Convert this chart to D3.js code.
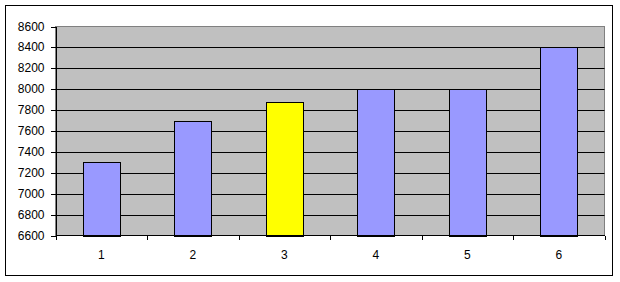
<!DOCTYPE html>
<html>
<head>
<meta charset="utf-8">
<script src="https://cdn.jsdelivr.net/npm/d3@7"></script>
<style>
  body { margin: 0; background: #fff; }
  .axis text { font-family: "Liberation Sans", Arial, sans-serif; font-size: 12px; fill: #000; }
  .axis path, .axis line { stroke: #000; shape-rendering: crispEdges; }
</style>
</head>
<body>
<div class="graph-container"></div>
<script>
const categories = ['1', '2', '3', '4', '5', '6'];
const values = [7300, 7700, 7880, 8000, 8000, 8400];
const highlighted = ['3'];
const yTicks = [6600, 6800, 7000, 7200, 7400, 7600, 7800, 8000, 8200, 8400, 8600];

const width = 620, height = 282;
const plot = { left: 55.5, top: 26.5, right: 604.5, bottom: 235.5 };

const svg = d3.select('.graph-container')
              .append('svg')
              .attr('width', width)
              .attr('height', height);

// Outer chart border
svg.append('rect')
   .attr('x', 5.5).attr('y', 5.5)
   .attr('width', 607).attr('height', 270)
   .attr('fill', '#fff')
   .attr('stroke', '#000');

const xScale = d3.scaleBand()
                 .domain(categories)
                 .range([plot.left, plot.right])
                 .paddingInner(0.6)
                 .paddingOuter(0.3);
const xBand = d3.scaleBand()
                .domain(categories)
                .range([plot.left, plot.right]);
const yScale = d3.scaleLinear()
                 .domain([6600, 8600])
                 .range([plot.bottom, plot.top]);

// Plot area
svg.append('rect')
   .attr('x', plot.left).attr('y', plot.top)
   .attr('width', plot.right - plot.left)
   .attr('height', plot.bottom - plot.top)
   .attr('fill', '#c0c0c0')
   .attr('stroke', '#808080')
   .attr('shape-rendering', 'crispEdges');

// Grid lines
svg.append('g')
   .selectAll('line')
   .data(yTicks.slice(1, -1))
   .join('line')
   .attr('x1', plot.left).attr('x2', plot.right)
   .attr('y1', d => Math.round(yScale(d)) + 0.5)
   .attr('y2', d => Math.round(yScale(d)) + 0.5)
   .attr('stroke', '#000');

// Bars
svg.append('g')
   .selectAll('rect')
   .data(categories)
   .join('rect')
   .attr('x', d => Math.round(xScale(d)) + 0.5)
   .attr('y', (d, i) => Math.round(yScale(values[i])) + 0.5)
   .attr('width', Math.round(xScale.bandwidth()))
   .attr('height', (d, i) => Math.round(yScale(6600)) - Math.round(yScale(values[i])))
   .attr('fill', d => highlighted.includes(d) ? '#ffff00' : '#9999ff')
   .attr('stroke', '#000');

// Y axis
const yAxis = d3.axisLeft(yScale)
                .tickValues(yTicks)
                .tickFormat(d3.format('d'))
                .tickSize(5)
                .tickPadding(6)
                .tickSizeOuter(0);
svg.append('g')
   .attr('class', 'axis y-axis')
   .attr('transform', `translate(${plot.left},0)`)
   .call(yAxis)
   .call(g => g.selectAll('.tick').attr('transform', d => `translate(0,${Math.round(yScale(d)) + 0.5})`));

// X axis: ticks at category boundaries
const xAxisG = svg.append('g')
                  .attr('class', 'axis x-axis')
                  .attr('transform', `translate(0,${plot.bottom})`);
xAxisG.append('line')
      .attr('x1', plot.left).attr('x2', plot.right)
      .attr('stroke', '#000');
xAxisG.selectAll('.bound')
      .data(categories.concat(['end']))
      .join('line')
      .attr('class', 'bound')
      .attr('x1', (d, i) => Math.round(i < categories.length ? xBand(d) : plot.right) + 0.5)
      .attr('x2', (d, i) => Math.round(i < categories.length ? xBand(d) : plot.right) + 0.5)
      .attr('y1', 0).attr('y2', 4)
      .attr('stroke', '#000');
xAxisG.selectAll('text')
      .data(categories)
      .join('text')
      .attr('x', d => xBand(d) + xBand.bandwidth() / 2)
      .attr('y', 23)
      .attr('text-anchor', 'middle')
      .text(d => d);
</script>
</body>
</html>
